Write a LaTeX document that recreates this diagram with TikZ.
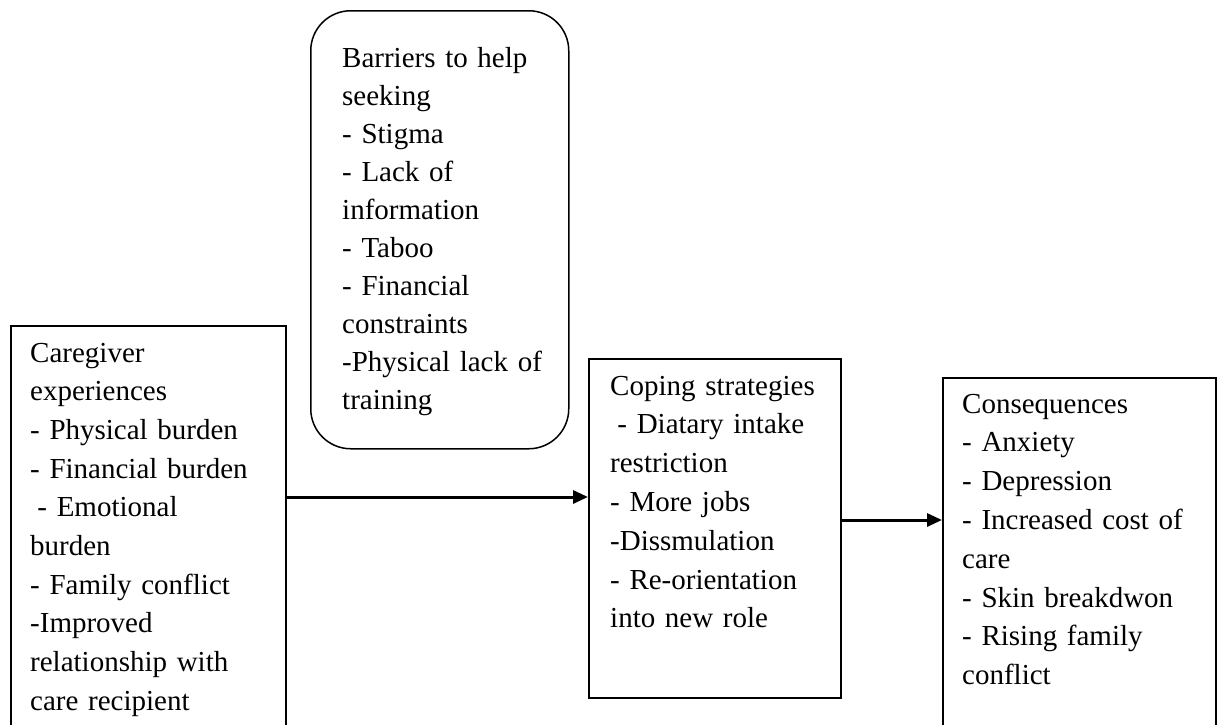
\documentclass[tikz,border=0pt]{standalone}
\usepackage{fontspec}
\setmainfont{Liberation Serif}
\usetikzlibrary{arrows.meta}
\begin{document}
\begin{tikzpicture}[x=1pt,y=-1pt,
 box/.style={draw, line width=1.5pt, rectangle, inner sep=0pt, anchor=north west},
 txt/.style={anchor=base west, inner sep=0pt, align=left, text width=330pt, font=\fontsize{29}{#1}\selectfont},
 txt/.default=38.7,
 arr/.style={-{Triangle[length=15pt,width=13pt]}, line width=3pt}]
\useasboundingbox (0,0) rectangle (1217,724);
\fill[white] (0,0) rectangle (1217,724);
% boxes
\node[box, minimum width=275pt, minimum height=440pt] (cg) at (10,325) {};
\node[box, rounded corners=40pt, minimum width=258pt, minimum height=438pt] (br) at (310,10) {};
\node[box, minimum width=252pt, minimum height=339pt] (cp) at (588,358) {};
\node[box, minimum width=273pt, minimum height=400pt] (cq) at (942,377) {};
% texts
\node[txt] (cgt) at (30,362) {Caregiver\\experiences\\- Physical burden\\- Financial burden\\\hspace*{0.25em}- Emotional\\burden\\- Family conflict\\-Improved\\relationship with\\care recipient};
\node[txt=38] (brt) at (342,67) {Barriers to help\\seeking\\- Stigma\\- Lack of\\information\\- Taboo\\- Financial\\constraints\\-Physical lack of\\training};
\node[txt=38.8] (cpt) at (610,395) {Coping strategies\\\hspace*{0.25em}- Diatary intake\\restriction\\- More jobs\\-Dissmulation\\- Re-orientation\\into new role};
\node[txt=38.8] (cqt) at (962,413) {Consequences\\- Anxiety\\- Depression\\- Increased cost of\\care\\- Skin breakdwon\\- Rising family\\conflict};
% connectors
\coordinate (a1) at (0,497);
\coordinate (a2) at (0,520);
\draw[arr] (cg.east |- a1) -- (cp.west |- a1);
\draw[arr] (cp.east |- a2) -- (cq.west |- a2);
\end{tikzpicture}
\end{document}
